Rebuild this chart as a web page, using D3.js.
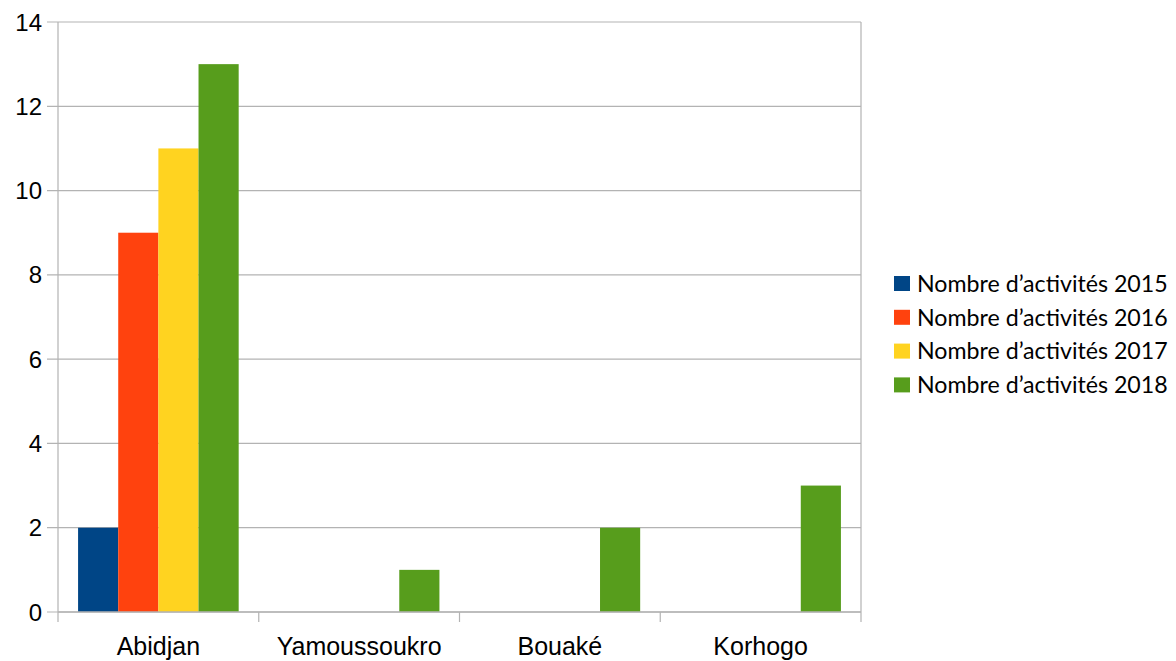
<!DOCTYPE html>
<html>
<head>
<meta charset="UTF-8">
<title>Nombre d'activités</title>
<script src="https://d3js.org/d3.v7.min.js"></script>
<style>
    body { margin: 0; background: #fff; }
    svg { display: block; }
</style>
</head>
<body>
<svg id="chart" width="1176" height="661"></svg>
<script>
var villes = ["Abidjan", "Yamoussoukro", "Bouaké", "Korhogo"];
var series = ["Nombre d’activités 2015", "Nombre d’activités 2016", "Nombre d’activités 2017", "Nombre d’activités 2018"];
var v2015 = [2, 0, 0, 0];
var v2016 = [9, 0, 0, 0];
var v2017 = [11, 0, 0, 0];
var v2018 = [13, 1, 2, 3];
var yTicks = [0, 2, 4, 6, 8, 10, 12, 14];
var couleurs = ["#004586", "#ff420e", "#ffd320", "#579d1c"];

var valeurs = [v2015, v2016, v2017, v2018];

var svg = d3.select("#chart");
var gauche = 58, droite = 861, haut = 22, bas = 612;

var x0 = d3.scaleBand().domain(villes).range([gauche, droite]);
var bw = x0.bandwidth();
var x1 = d3.scaleBand().domain(d3.range(series.length)).range([bw * 0.1, bw * 0.9]);
var y = d3.scaleLinear().domain([0, 14]).range([bas, haut]);

// grille horizontale
svg.append("g").selectAll("line").data(yTicks).enter().append("line")
    .attr("x1", gauche - 11).attr("x2", droite)
    .attr("y1", function (d) { return y(d); })
    .attr("y2", function (d) { return y(d); })
    .attr("stroke", "#b3b3b3").attr("stroke-width", 1.2);

// barres
var groupes = svg.append("g").selectAll("g").data(villes).enter().append("g")
    .attr("transform", function (d) { return "translate(" + x0(d) + ",0)"; });

groupes.selectAll("rect").data(function (d, i) {
        return valeurs.map(function (s, j) { return { s: j, v: s[i] }; });
    }).enter().append("rect")
    .attr("x", function (d) { return x1(d.s); })
    .attr("width", x1.bandwidth())
    .attr("y", function (d) { return y(d.v); })
    .attr("height", function (d) { return y(0) - y(d.v); })
    .attr("fill", function (d) { return couleurs[d.s]; });

// axes et cadre
svg.append("line").attr("x1", gauche).attr("x2", gauche).attr("y1", haut).attr("y2", bas + 10)
    .attr("stroke", "#b3b3b3").attr("stroke-width", 1.2);
svg.append("line").attr("x1", droite).attr("x2", droite).attr("y1", haut).attr("y2", bas + 10)
    .attr("stroke", "#b3b3b3").attr("stroke-width", 1.2);
svg.append("line").attr("x1", gauche).attr("x2", droite).attr("y1", y(0)).attr("y2", y(0))
    .attr("stroke", "#b3b3b3").attr("stroke-width", 1.6);
svg.append("g").selectAll("line").data(villes.slice(1)).enter().append("line")
    .attr("x1", function (d) { return x0(d); })
    .attr("x2", function (d) { return x0(d); })
    .attr("y1", bas).attr("y2", bas + 10)
    .attr("stroke", "#b3b3b3").attr("stroke-width", 1.2);

// libellés axe Y
svg.append("g").selectAll("text").data(yTicks).enter().append("text")
    .attr("x", gauche - 16)
    .attr("y", function (d) { return y(d); })
    .attr("dy", "0.36em")
    .attr("text-anchor", "end")
    .attr("font-family", "Liberation Sans, Arial, sans-serif")
    .attr("font-size", "24px")
    .attr("fill", "#000")
    .text(function (d) { return d; });

// libellés axe X
svg.append("g").selectAll("text").data(villes).enter().append("text")
    .attr("x", function (d) { return x0(d) + bw / 2; })
    .attr("y", 655)
    .attr("text-anchor", "middle")
    .attr("font-family", "Liberation Sans, Arial, sans-serif")
    .attr("font-size", "25px")
    .attr("fill", "#000")
    .text(function (d) { return d; });

// légende
var legende = svg.append("g").selectAll("g").data(series).enter().append("g")
    .attr("transform", function (d, i) { return "translate(894," + (276 + i * 33.8) + ")"; });
legende.append("rect").attr("width", 16).attr("height", 15)
    .attr("fill", function (d, i) { return couleurs[i]; });
legende.append("text")
    .attr("x", 23).attr("y", 7.5).attr("dy", "0.36em")
    .attr("font-family", "Lato, Carlito, sans-serif")
    .attr("font-size", "23.2px")
    .attr("fill", "#000")
    .text(function (d) { return d; });
</script>
</body>
</html>
